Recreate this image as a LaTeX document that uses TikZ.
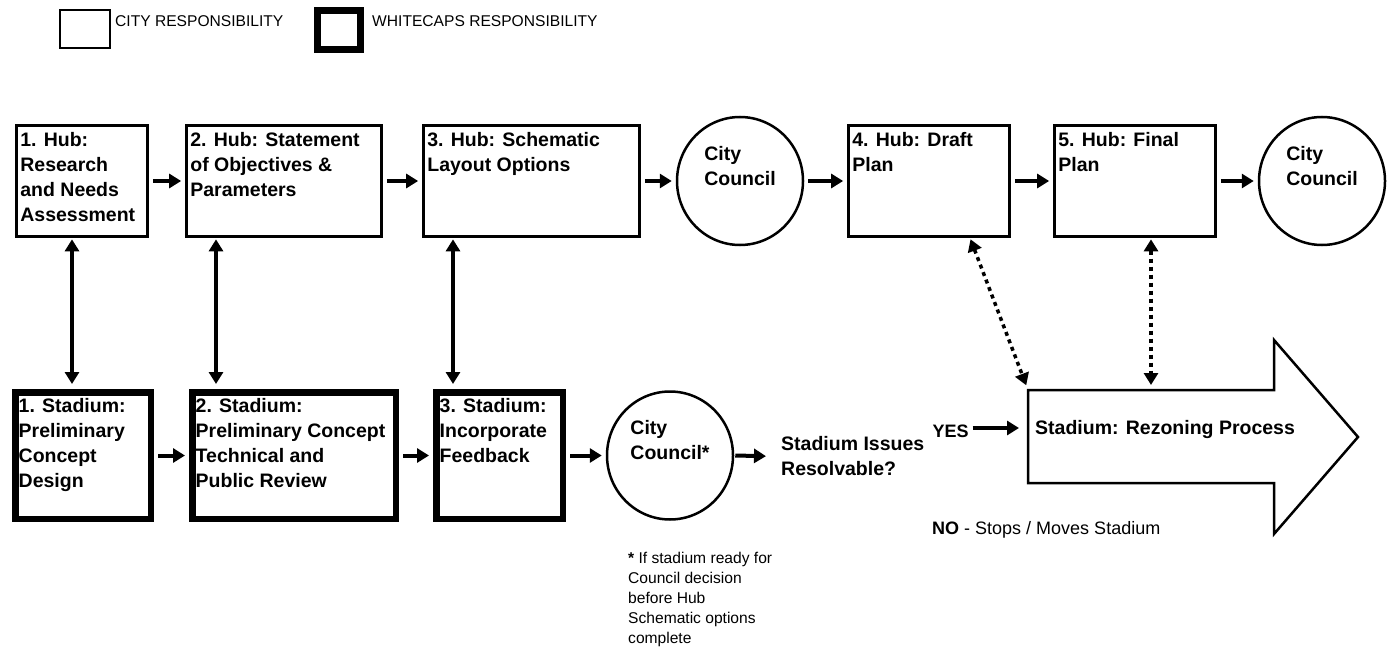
\documentclass[tikz,border=0pt]{standalone}
\usepackage{fontspec}
\setmainfont{Liberation Sans}
\usetikzlibrary{arrows.meta,shapes.geometric}
\newcommand{\lblfont}{\fontsize{19.5}{25}\selectfont\bfseries}
\newcommand{\notefont}{\fontsize{15.6}{20}\selectfont}
\newcommand{\nofont}{\fontsize{18}{22}\selectfont}
\begin{document}
\begin{tikzpicture}[x=1pt,y=-1pt,
    hub/.style={draw, line width=2.7pt, inner sep=0pt, minimum height=111pt},
    stad/.style={draw, line width=6.5pt, inner sep=0pt, minimum height=126.5pt},
    council/.style={ellipse, draw, line width=2.5pt, inner sep=0pt, minimum width=126pt, minimum height=128pt},
    tl/.style={anchor=north west, inner sep=0pt, align=left, font=\lblfont},
    mid/.style={anchor=center, inner sep=0pt, align=left, font=\lblfont, yshift=15pt},
    flow/.style={-{Triangle[length=12pt,width=14pt]}, line width=4pt, shorten <=4pt, shorten >=4pt},
    both/.style={{Triangle[length=12pt,width=14pt]}-{Triangle[length=12pt,width=14pt]}, line width=3.5pt, shorten <=1.5pt, shorten >=5pt},
    dots/.style={both, dash pattern=on 4pt off 4pt}]
    \useasboundingbox (0,0) rectangle (1394,647);
    % legend
    \node[draw, line width=2.7pt, inner sep=0pt, minimum width=50pt, minimum height=38pt] (legcity) at (85,29) {};
    \node[anchor=west, inner sep=0pt, font=\notefont] (legcitytxt) at (115,21) {CITY RESPONSIBILITY};
    \node[draw, line width=6.5pt, inner sep=0pt, minimum width=43pt, minimum height=39pt] (legwc) at (339,30) {};
    \node[anchor=west, inner sep=0pt, font=\notefont] (legwctxt) at (372,21) {WHITECAPS RESPONSIBILITY};
    % hub row
    \node[hub, minimum width=131pt, label={[tl, xshift=5pt, yshift=-8.3pt]north west:{1. Hub:\\Research\\and Needs\\Assessment}}] (h1) at (82,181) {};
    \node[hub, minimum width=195pt, label={[tl, xshift=5pt, yshift=-8.3pt]north west:{2. Hub: Statement\\of Objectives \&\\Parameters}}] (h2) at (284,181) {};
    \node[hub, minimum width=216pt, label={[tl, xshift=5pt, yshift=-8.3pt]north west:{3. Hub: Schematic\\Layout Options}}] (h3) at (531.5,181) {};
    \node[council, label={[mid]center:{City\\Council}}] (cc1) at (740,181) {};
    \node[hub, minimum width=161pt, label={[tl, xshift=5pt, yshift=-8.3pt]north west:{4. Hub: Draft\\Plan}}] (h4) at (929,181) {};
    \node[hub, minimum width=161pt, label={[tl, xshift=5pt, yshift=-8.3pt]north west:{5. Hub: Final\\Plan}}] (h5) at (1135,181) {};
    \node[council, label={[mid]center:{City\\Council}}] (cc2) at (1322,181) {};
    % stadium row
    \node[stad, minimum width=135.5pt, label={[tl, xshift=6.5pt, yshift=-9.5pt]north west:{1. Stadium:\\Preliminary\\Concept\\Design}}] (s1) at (83,455.5) {};
    \node[stad, minimum width=203.5pt, label={[tl, xshift=6.5pt, yshift=-9.5pt]north west:{2. Stadium:\\Preliminary Concept\\Technical and\\Public Review}}] (s2) at (294,455.5) {};
    \node[stad, minimum width=126.5pt, label={[tl, xshift=6.5pt, yshift=-9.5pt]north west:{3. Stadium:\\Incorporate\\Feedback}}] (s3) at (499.5,455.5) {};
    \node[council, label={[mid]center:{City\\Council*}}] (ccs) at (670,455.5) {};
    \node[anchor=west, inner sep=0pt, align=left, font=\lblfont] (iss) at (781,456.5) {Stadium Issues\\Resolvable?};
    \node[inner sep=0pt, font=\nofont\bfseries] (yes) at (950.5,431) {YES};
    % rezoning arrow
    \coordinate (rznw) at (1028,390);
    \draw[line width=2.5pt] (rznw) -- (1274,390) -- (1274,340) -- (1358,437) -- (1274,534) -- (1274,483) -- (1028,483) -- cycle;
    \node[anchor=west, inner sep=0pt, font=\lblfont] (rz) at (1035,429) {Stadium: Rezoning Process};
    \node[anchor=west, inner sep=0pt, font=\nofont] (no) at (932,530) {\textbf{NO} - Stops / Moves Stadium};
    \node[anchor=north west, inner sep=0pt, align=left, font=\notefont] (note) at (628,552) {\textbf{*} If stadium ready for\\Council decision\\before Hub\\Schematic options\\complete};
    % connectors
    \draw[flow] (h1.east) -- (h2.west);
    \draw[flow] (h2.east) -- (h3.west);
    \draw[flow] (h3.east) -- (cc1.west);
    \draw[flow] (cc1.east) -- (h4.west);
    \draw[flow] (h4.east) -- (h5.west);
    \draw[flow] (h5.east) -- (cc2.west);
    \draw[flow] (s1.east) -- (s2.west);
    \draw[flow] (s2.east) -- (s3.west);
    \draw[flow] (s3.east) -- (ccs.west);
    \draw[flow, shorten <=1pt, shorten >=15pt] (ccs.east) -- (iss.west);
    \draw[flow, shorten >=16pt] ([yshift=3pt]yes.east) -- ([yshift=3pt]yes.east -| rz.west);
    \draw[both] ([xshift=-10pt]h1.south) -- ([xshift=-10pt]h1.south |- s1.north);
    \draw[both] ([xshift=-68pt]h2.south) -- ([xshift=-68pt]h2.south |- s2.north);
    \draw[both] ([xshift=-78.5pt]h3.south) -- ([xshift=-78.5pt]h3.south |- s3.north);
    \draw[dots] ([xshift=41pt]h4.south) -- (rznw);
    \draw[dots] ([xshift=16pt]h5.south) -- ([xshift=16pt]h5.south |- rznw);
\end{tikzpicture}
\end{document}
